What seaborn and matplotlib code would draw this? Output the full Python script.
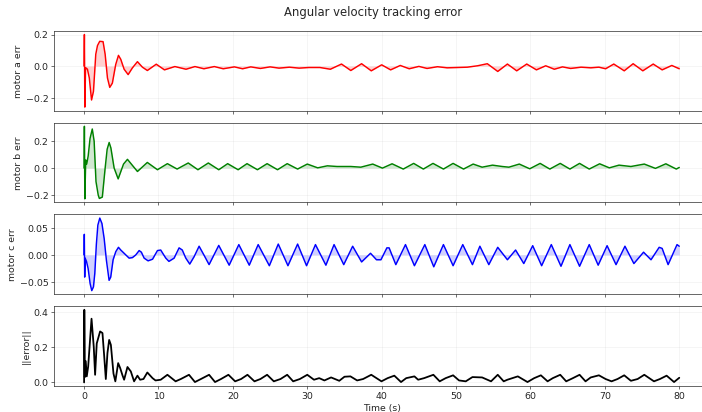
import numpy as np
import pandas as pd
import matplotlib
matplotlib.use("Agg")
import matplotlib.pyplot as plt
import seaborn as sns

# Tracking error samples (time [s], error) for each motor and the error norm
motor_a = [(0.0, 0.0), (0.04, 0.20), (0.1, -0.26), (0.2, -0.01), (0.45, -0.02), (0.7, -0.075),
           (1.0, -0.215), (1.26, -0.16), (1.57, 0.075), (1.8, 0.13), (2.1, 0.157), (2.55, 0.155),
           (2.83, 0.075), (3.14, -0.075), (3.45, -0.135), (3.8, -0.108), (4.25, 0.01), (4.62, 0.068),
           (4.93, 0.043), (5.38, -0.02), (5.92, -0.054), (6.5, -0.011), (7.17, 0.028), (7.84, -0.007),
           (8.5, -0.028), (9.7, 0.012), (10.8, -0.024), (12.2, -0.003), (13.7, -0.02), (14.9, -0.003),
           (16.1, -0.017), (17.5, -0.003), (18.7, -0.017), (20.2, -0.005), (21.3, -0.017), (22.4, -0.005),
           (23.7, -0.015), (25.0, -0.005), (26.2, -0.013), (27.6, -0.007), (28.9, -0.013), (30.2, -0.009),
           (31.7, -0.009), (33.1, -0.02), (34.6, 0.013), (35.85, -0.028), (37.3, 0.015), (38.6, -0.030),
           (40.0, 0.008), (41.2, -0.024), (42.5, 0.004), (43.7, -0.017), (45.0, -0.002), (46.1, -0.015),
           (47.5, -0.004), (48.8, -0.011), (50.2, -0.009), (51.5, -0.007), (52.9, 0.002), (54.2, 0.015),
           (55.6, -0.034), (56.9, 0.013), (58.15, -0.030), (59.5, 0.013), (60.8, -0.024), (62.05, 0.002),
           (63.2, -0.020), (64.3, -0.005), (65.4, -0.015), (66.8, -0.007), (68.1, -0.011), (69.2, -0.007),
           (70.1, -0.017), (71.2, 0.013), (72.6, -0.030), (73.8, 0.015), (75.1, -0.030), (76.5, 0.013),
           (77.7, -0.024), (79.0, 0.004), (80.0, -0.017)]

motor_b = [(0.0, 0.0), (0.04, 0.31), (0.1, -0.228), (0.22, 0.06), (0.35, 0.03), (0.55, 0.09),
           (0.8, 0.22), (1.1, 0.29), (1.35, 0.2), (1.6, -0.1), (1.9, -0.2), (2.05, -0.225),
           (2.45, -0.215), (2.83, 0.0), (3.1, 0.14), (3.37, 0.19), (3.6, 0.15), (4.04, 0.0),
           (4.58, -0.08), (5.3, 0.03), (5.83, 0.065), (7.17, -0.025), (8.5, 0.042), (9.86, -0.012),
           (11.2, 0.033), (12.5, -0.007), (14.0, 0.038), (15.3, -0.012), (16.7, 0.038), (18.1, -0.012),
           (19.3, 0.033), (20.7, -0.012), (21.9, 0.033), (23.3, -0.012), (24.6, 0.033), (26.0, -0.012),
           (27.3, 0.033), (28.7, -0.007), (30.0, 0.03), (31.4, 0.002), (32.7, 0.017), (34.0, 0.012),
           (35.85, 0.012), (37.2, 0.007), (38.8, 0.030), (40.1, 0.0), (41.4, 0.032), (42.9, -0.007),
           (44.3, 0.035), (45.6, -0.007), (46.9, 0.035), (48.3, -0.007), (49.6, 0.035), (51.0, -0.007),
           (52.3, 0.030), (53.5, 0.007), (54.9, 0.022), (56.2, 0.012), (57.1, 0.007), (58.5, 0.030),
           (59.9, -0.005), (61.3, 0.035), (62.6, -0.007), (64.0, 0.035), (65.3, -0.007), (66.6, 0.035),
           (67.9, -0.007), (69.3, 0.032), (70.6, 0.002), (71.9, 0.022), (73.5, 0.012), (75.3, 0.030),
           (76.8, -0.002), (78.2, 0.032), (79.6, -0.007), (80.0, 0.005)]

motor_c = [(0.0, 0.0), (0.03, 0.038), (0.08, -0.041), (0.14, -0.006), (0.32, -0.012), (0.54, -0.025),
           (0.81, -0.053), (1.03, -0.066), (1.26, -0.059), (1.44, -0.034), (1.65, 0.02), (1.85, 0.055),
           (2.11, 0.068), (2.4, 0.058), (2.7, 0.03), (3.0, -0.01), (3.36, -0.047), (3.58, -0.041),
           (3.9, -0.009), (4.26, 0.006), (4.62, 0.014), (4.93, 0.009), (5.38, 0.003), (6.05, -0.006),
           (6.5, -0.005), (6.95, 0.0), (7.4, 0.008), (7.7, 0.005), (8.07, -0.006), (8.6, -0.011),
           (9.2, -0.008), (9.86, 0.008), (10.3, 0.009), (10.98, -0.006), (11.4, -0.012), (12.1, -0.006),
           (12.77, 0.013), (13.2, 0.009), (13.67, -0.006), (14.2, -0.017), (14.8, -0.003), (15.46, 0.016),
           (16.1, 0.0), (16.8, -0.018), (18.1, 0.0175), (19.5, -0.019), (20.8, 0.019), (22.2, -0.019),
           (23.4, 0.019), (24.9, -0.02), (26.1, 0.02), (27.4, -0.02), (28.7, 0.02), (29.9, -0.02),
           (31.1, 0.019), (32.5, -0.019), (33.6, 0.019), (34.9, -0.018), (36.1, 0.016), (37.3, -0.013),
           (38.5, 0.003), (39.3, -0.009), (39.9, -0.009), (40.7, 0.013), (41.0, 0.013), (41.9, -0.018),
           (43.2, 0.019), (44.4, -0.02), (45.8, 0.019), (47.0, -0.022), (48.3, 0.019), (49.6, -0.02),
           (50.9, 0.019), (52.2, -0.018), (53.2, 0.016), (54.4, -0.018), (55.6, 0.014), (56.9, -0.009),
           (58.0, 0.009), (59.1, -0.016), (60.3, 0.017), (61.5, -0.02), (62.8, 0.019), (64.1, -0.021),
           (65.3, 0.019), (66.6, -0.021), (67.9, 0.019), (69.1, -0.019), (70.3, 0.017), (71.5, -0.018),
           (72.7, 0.016), (73.9, -0.016), (75.2, 0.005), (76.2, -0.009), (77.3, 0.014), (77.7, 0.012),
           (78.5, -0.018), (79.7, 0.019), (80.0, 0.016)]

error_norm = [(0.0, 0.0), (0.03, 0.41), (0.1, 0.03), (0.22, 0.12), (0.36, 0.034), (0.55, 0.09),
              (1.0, 0.36), (1.3, 0.2), (1.48, 0.043), (1.7, 0.22), (2.15, 0.288), (2.47, 0.279),
              (2.7, 0.15), (2.92, 0.019), (3.14, 0.166), (3.37, 0.24), (3.6, 0.212), (3.95, 0.05),
              (4.2, 0.006), (4.58, 0.109), (4.85, 0.081), (5.16, 0.04), (5.38, 0.015), (5.83, 0.087),
              (6.28, 0.062), (6.72, 0.006), (7.17, 0.038), (7.53, 0.015), (7.98, 0.019), (8.5, 0.056),
              (9.2, 0.024), (9.6, 0.011), (10.3, 0.015), (11.2, 0.043), (12.3, 0.006), (13.0, 0.019),
              (14.1, 0.043), (14.9, 0.002), (15.7, 0.019), (16.8, 0.043), (17.6, 0.002), (18.4, 0.019),
              (19.4, 0.043), (20.3, 0.006), (21.1, 0.019), (21.96, 0.043), (22.9, 0.006), (23.7, 0.019),
              (24.6, 0.043), (25.5, 0.006), (26.4, 0.019), (27.3, 0.043), (28.1, 0.006), (29.0, 0.019),
              (30.0, 0.043), (30.9, 0.015), (31.6, 0.024), (32.3, 0.011), (33.2, 0.028), (34.3, 0.009),
              (35.0, 0.032), (35.8, 0.034), (36.7, 0.011), (37.5, 0.019), (38.6, 0.043), (39.97, 0.006),
              (40.8, 0.024), (41.7, 0.038), (42.6, 0.002), (43.3, 0.024), (44.4, 0.034), (44.9, 0.015),
              (45.7, 0.024), (46.95, 0.043), (47.8, 0.006), (48.6, 0.024), (49.6, 0.04), (50.4, 0.011),
              (51.3, 0.006), (52.2, 0.030), (53.5, 0.028), (54.7, 0.006), (55.6, 0.043), (56.4, 0.006),
              (56.9, 0.015), (58.3, 0.034), (59.6, 0.002), (60.5, 0.024), (61.4, 0.04), (62.3, 0.006),
              (63.0, 0.024), (64.0, 0.043), (64.8, 0.006), (65.7, 0.024), (66.6, 0.043), (67.4, 0.006),
              (68.1, 0.028), (69.2, 0.04), (70.1, 0.019), (70.9, 0.006), (71.7, 0.019), (72.6, 0.04),
              (73.5, 0.009), (74.4, 0.019), (75.3, 0.043), (76.6, 0.006), (77.4, 0.019), (78.3, 0.038),
              (79.3, 0.002), (80.0, 0.026)]

panel_labels = ["motor a err", "motor b err", "motor c err", "||error||"]
panel_colors = ["red", "green", "blue", "black"]
y_ticks = [[-0.2, 0.0, 0.2], [-0.2, 0.0, 0.2], [-0.05, 0.0, 0.05], [0.0, 0.2, 0.4]]
x_ticks = [0, 10, 20, 30, 40, 50, 60, 70, 80]

sns.set_style("ticks")
plt.rcParams["font.family"] = ["DejaVu Sans"]
plt.rcParams["font.size"] = 11.5
plt.rcParams["xtick.labelsize"] = 11.5
plt.rcParams["ytick.labelsize"] = 11.5
plt.rcParams["axes.labelsize"] = 11.5
plt.rcParams["axes.edgecolor"] = "0.1"

fig, axes = plt.subplots(4, 1, sharex=True, figsize=(12, 7.05), dpi=58.5)
fig.subplots_adjust(left=0.0774, right=1.010, top=0.924, bottom=0.063, hspace=0.15)

series = [motor_a, motor_b, motor_c, error_norm]
for i, (ax, data) in enumerate(zip(axes, series)):
    df = pd.DataFrame(data, columns=["t", "err"])
    sns.lineplot(data=df, x="t", y="err", ax=ax, color=panel_colors[i],
                 linewidth=2.2 if i == 3 else 1.8, sort=False, estimator=None)
    if i < 3:
        ax.fill_between(df["t"], df["err"], 0, color=panel_colors[i], alpha=0.18, linewidth=0)
    ax.set_ylabel(panel_labels[i])
    ax.set_xlabel("")
    ax.set_yticks(y_ticks[i])
    ax.grid(True, alpha=0.3)
    ax.margins(x=0.05, y=0.05)

axes[-1].set_xticks(x_ticks)
axes[-1].set_xlim(-4, 84)
axes[-1].set_xlabel("Time (s)")
fig.suptitle("Angular velocity tracking error", x=0.531, y=0.985, fontsize=14.3)

fig.savefig("out.png", dpi=58.5)
